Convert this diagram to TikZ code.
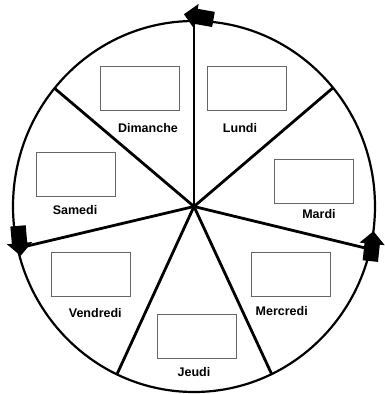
\documentclass[tikz,border=0pt]{standalone}
\usepackage{fontspec}
\setmainfont{Liberation Sans}
\usetikzlibrary{shapes.arrows}

\begin{document}
\begin{tikzpicture}[x=1pt,y=1pt,font=\bfseries\fontsize{12.5}{14}\selectfont,
  daybox/.style={draw=black!60,line width=0.9pt,minimum width=79pt,minimum height=44pt,inner sep=0pt},
  spoke/.style={line width=2.8pt},
  turn/.style={single arrow,fill=black,draw=none,minimum height=30pt,minimum width=25pt,
    inner xsep=0pt,inner ysep=7.5pt,single arrow head extend=5pt,single arrow head indent=0pt}]
  \def\rx{181}\def\ry{185.5}
  \useasboundingbox (-194,-187.5) rectangle (190,206.5);
  \coordinate (hub) at (0,0);
  \draw[line width=2.2pt] (hub) ellipse ({\rx} and {\ry});
  % spokes
  \foreach \a/\s in {90/top,140.4/dl,39.8/ld,-13.3/mm,193/sv,244.8/vj,295.4/jm}
    \coordinate (\s) at (\a:{\rx} and {\ry});
  \foreach \s in {top,dl,ld,mm,sv,vj,jm}
    \draw[spoke] (hub) -- (\s);
  % arrows on the rim
  \node[turn,rotate=170] (arrT) at (8.5,189) {};
  \node[turn,rotate=275] (arrL) at (-175,-30.5) {};
  \node[turn,rotate=84] (arrR) at (177.5,-43.5) {};
  % days
  \node[daybox] (bDim) at (-54,118.2) {};
  \node (tDim) at (-46,78.2) {Dimanche};
  \node[daybox] (bLun) at (53.2,118.2) {};
  \node (tLun) at (46,78.2) {Lundi};
  \node[daybox] (bSam) at (-117.8,32) {};
  \node (tSam) at (-119,-3.5) {Samedi};
  \node[daybox] (bMar) at (119.7,25.2) {};
  \node (tMar) at (125,-7.8) {Mardi};
  \node[daybox] (bVen) at (-103.2,-67.8) {};
  \node (tVen) at (-98.7,-106.2) {Vendredi};
  \node[daybox] (bMer) at (97.3,-67.8) {};
  \node (tMer) at (87.7,-104.2) {Mercredi};
  \node[daybox] (bJeu) at (2.7,-130) {};
  \node (tJeu) at (0,-165.2) {Jeudi};
\end{tikzpicture}
\end{document}
